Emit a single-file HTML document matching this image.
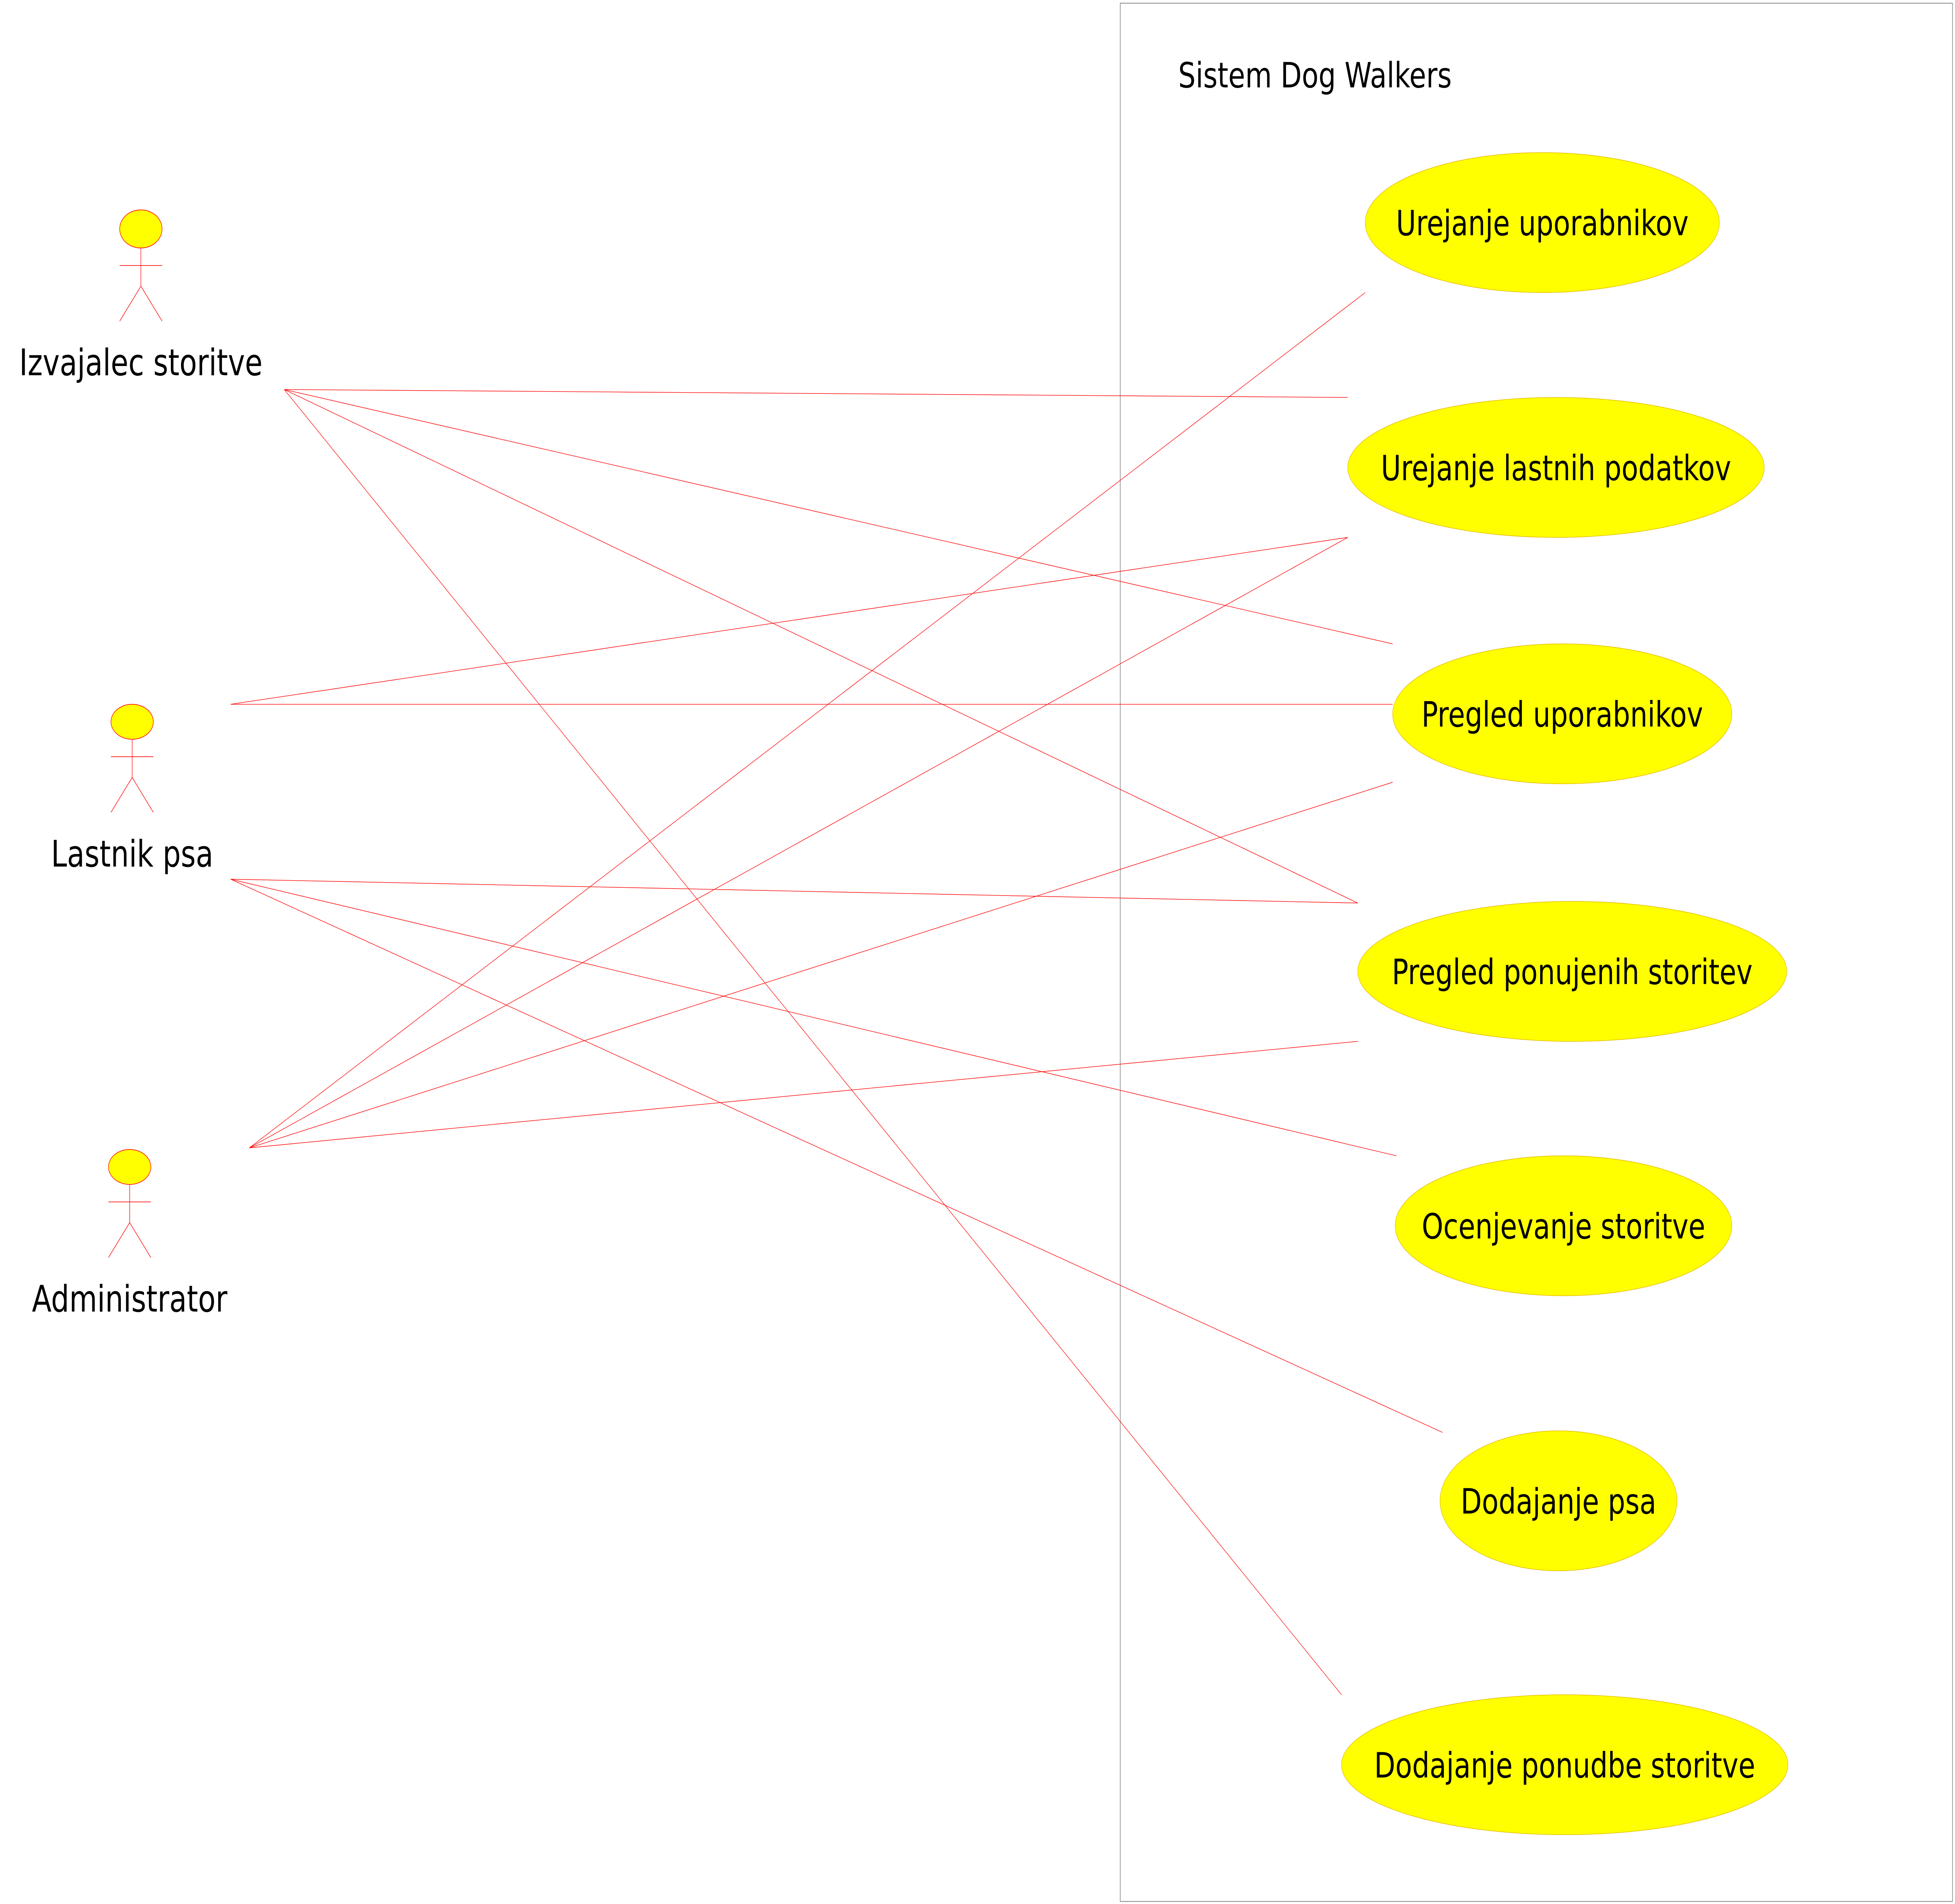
<!DOCTYPE html>
<html><head><meta charset="utf-8"><style>
html,body{margin:0;padding:0;background:#fff;width:100vw;height:100vh;overflow:hidden;}
svg{display:block;position:absolute;left:0;top:0;width:100vw;height:100vh;}
text{font-family:"DejaVu Sans","Liberation Sans",sans-serif;fill:#000;}
</style></head><body>
<svg viewBox="0 0 1568 1197.6" preserveAspectRatio="none">
<rect x="898.5" y="2" width="667.5" height="1194" fill="none" stroke="#888" stroke-width="0.5"/>
<text x="945" y="55" font-size="22">Sistem Dog Walkers</text>
<g stroke="#f00" stroke-width="0.35" fill="none">
<line x1="228" y1="245" x2="1081" y2="250"/>
<line x1="228" y1="245" x2="1117" y2="405"/>
<line x1="228" y1="245" x2="1089" y2="568"/>
<line x1="228" y1="245" x2="1076" y2="1066"/>
<line x1="185" y1="443" x2="1081" y2="338"/>
<line x1="185" y1="443" x2="1117" y2="443"/>
<line x1="185" y1="553" x2="1089" y2="568"/>
<line x1="185" y1="553" x2="1120" y2="727"/>
<line x1="185" y1="553" x2="1157" y2="901"/>
<line x1="200" y1="722" x2="1095" y2="184"/>
<line x1="200" y1="722" x2="1081" y2="338"/>
<line x1="200" y1="722" x2="1117" y2="492"/>
<line x1="200" y1="722" x2="1089" y2="655"/>
</g>
<g fill="#ff0" stroke="#e8c000" stroke-width="0.4">
<ellipse cx="1237" cy="140" rx="142" ry="44"/>
<ellipse cx="1248" cy="294" rx="167" ry="44"/>
<ellipse cx="1253" cy="449" rx="136" ry="44"/>
<ellipse cx="1261" cy="611" rx="172" ry="44"/>
<ellipse cx="1254" cy="771" rx="135" ry="44"/>
<ellipse cx="1250" cy="944" rx="95" ry="44"/>
<ellipse cx="1255" cy="1110" rx="179" ry="44"/>
</g>
<g font-size="22" text-anchor="middle">
<text x="1237" y="148">Urejanje uporabnikov</text>
<text x="1248" y="302">Urejanje lastnih podatkov</text>
<text x="1253" y="457">Pregled uporabnikov</text>
<text x="1261" y="619">Pregled ponujenih storitev</text>
<text x="1254" y="779">Ocenjevanje storitve</text>
<text x="1250" y="952">Dodajanje psa</text>
<text x="1255" y="1118">Dodajanje ponudbe storitve</text>
</g>
<g>
<ellipse cx="113" cy="144" rx="17" ry="12" fill="#ff0" stroke="#f00" stroke-width="0.4"/>
<g stroke="#f00" stroke-width="0.4"><line x1="113" y1="156" x2="113" y2="180"/><line x1="96" y1="167" x2="130" y2="167"/><line x1="113" y1="180" x2="96" y2="202"/><line x1="113" y1="180" x2="130" y2="202"/></g>
<text x="113" y="236" font-size="23" text-anchor="middle">Izvajalec storitve</text>
</g>
<g>
<ellipse cx="106" cy="454" rx="17" ry="11" fill="#ff0" stroke="#f00" stroke-width="0.4"/>
<g stroke="#f00" stroke-width="0.4"><line x1="106" y1="465" x2="106" y2="489"/><line x1="89" y1="476" x2="123" y2="476"/><line x1="106" y1="489" x2="89" y2="511"/><line x1="106" y1="489" x2="123" y2="511"/></g>
<text x="106" y="545" font-size="23" text-anchor="middle">Lastnik psa</text>
</g>
<g>
<ellipse cx="104" cy="734" rx="17" ry="11" fill="#ff0" stroke="#f00" stroke-width="0.4"/>
<g stroke="#f00" stroke-width="0.4"><line x1="104" y1="745" x2="104" y2="769"/><line x1="87" y1="756" x2="121" y2="756"/><line x1="104" y1="769" x2="87" y2="791"/><line x1="104" y1="769" x2="121" y2="791"/></g>
<text x="104" y="825" font-size="23" text-anchor="middle">Administrator</text>
</g>
</svg>
</body></html>
